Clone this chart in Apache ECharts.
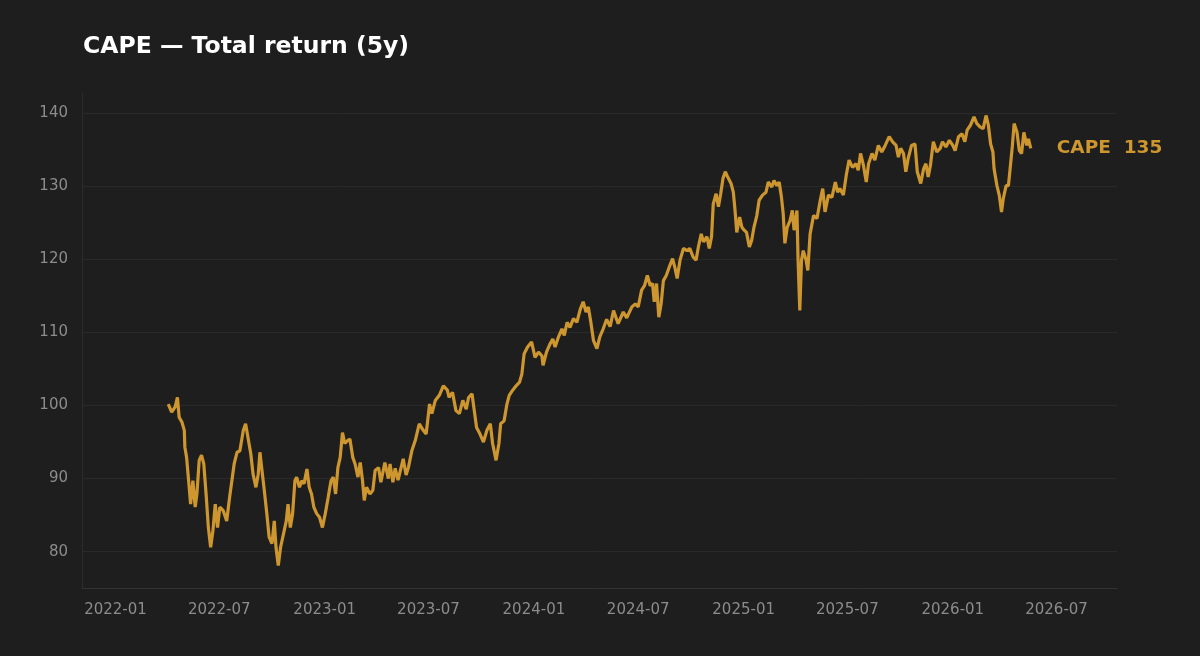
<!DOCTYPE html>
<html>
<head>
<meta charset="utf-8">
<title>CAPE — Total return (5y)</title>
<script src="https://cdn.jsdelivr.net/npm/echarts@6/dist/echarts.min.js"></script>
<style>
  html, body { margin: 0; padding: 0; background: #1e1e1e; }
  #chart { width: 1200px; height: 656px; }
</style>
</head>
<body>
<div id="chart"></div>
<script>
// days since 2022-01-01
var dayOffsets = [
  92, 98, 104, 108, 111, 116, 120, 121, 124, 129, 131, 135, 139, 142, 146, 150, 154, 158, 162, 166,
  170, 174, 178, 182, 188, 194, 199, 203, 207, 212, 217, 223, 227, 232, 236, 240, 245, 249, 252, 255,
  259, 264, 268, 273, 277, 280, 284, 288, 293, 298, 301, 305, 309, 313, 316, 321, 325, 329, 334, 338,
  342, 346, 351, 356, 361, 366, 371, 376, 380, 384, 388, 392, 396, 400, 405, 409, 414, 418, 423, 427,
  431, 434, 438, 444, 449, 453, 459, 463, 470, 476, 479, 484, 488, 493, 502, 507, 511, 517, 523, 530,
  537, 542, 548, 552, 558, 565, 572, 579, 582, 588, 594, 600, 606, 612, 616, 622, 626, 630, 636, 642,
  648, 654, 658, 664, 669, 672, 678, 683, 687, 693, 699, 705, 709, 713, 719, 726, 732, 738, 744, 746,
  752, 758, 763, 767, 773, 779, 783, 788, 793, 799, 805, 811, 816, 821, 825, 829, 834, 840, 845, 851,
  857, 863, 869, 877, 886, 892, 901, 907, 912, 918, 923, 928, 933, 937, 940, 944, 948, 952, 956, 961,
  966, 972, 976, 980, 985, 991, 997, 1002, 1008, 1013, 1017, 1022, 1026, 1032, 1036, 1040, 1043, 1048, 1052, 1056,
  1060, 1064, 1068, 1074, 1078, 1081, 1084, 1089, 1093, 1097, 1101, 1106, 1110, 1114, 1119, 1123, 1129, 1135, 1139, 1145,
  1149, 1154, 1158, 1162, 1165, 1168, 1172, 1177, 1181, 1184, 1189, 1191, 1194, 1197, 1200, 1205, 1208, 1212, 1218, 1224,
  1229, 1234, 1238, 1244, 1250, 1256, 1260, 1264, 1270, 1275, 1280, 1286, 1292, 1296, 1300, 1305, 1310, 1314, 1320, 1325,
  1331, 1337, 1343, 1350, 1356, 1362, 1366, 1370, 1375, 1379, 1383, 1389, 1395, 1399, 1405, 1410, 1414, 1418, 1422, 1427,
  1433, 1439, 1443, 1449, 1455, 1461, 1465, 1471, 1477, 1482, 1486, 1492, 1498, 1503, 1509, 1514, 1519, 1523, 1527, 1531,
  1533, 1538, 1542, 1546, 1549, 1554, 1558, 1561, 1565, 1568, 1573, 1577, 1581, 1585, 1590, 1593, 1597
];

var capeValues = [
  100.2, 99.1, 99.8, 101.1, 98.4, 97.7, 96.6, 94.3, 92.9, 88.4, 86.5, 89.7, 86.1, 87.9, 92.5, 93.2, 92.0, 87.9, 83.3, 80.6,
  82.9, 86.5, 83.3, 86.1, 85.6, 84.2, 87.4, 89.7, 92.0, 93.6, 93.8, 96.6, 97.5, 95.2, 93.4, 90.6, 88.8, 90.6, 93.6, 91.5,
  88.8, 85.2, 82.0, 81.1, 84.2, 80.6, 78.1, 80.6, 82.4, 84.2, 86.5, 83.3, 85.2, 89.7, 90.2, 88.8, 89.7, 89.3, 91.3, 88.8,
  87.9, 86.1, 85.2, 84.7, 83.3, 85.2, 87.4, 89.7, 90.2, 87.9, 91.5, 92.9, 96.3, 94.8, 95.2, 95.4, 92.9, 92.0, 90.2, 92.2,
  89.7, 87.0, 88.8, 87.9, 88.4, 91.1, 91.5, 89.5, 92.2, 90.0, 92.0, 89.5, 91.4, 89.8, 92.7, 90.5, 91.5, 93.8, 95.2, 97.5,
  96.6, 96.1, 100.2, 98.9, 100.7, 101.4, 102.7, 102.1, 101.1, 101.8, 99.3, 98.9, 100.7, 99.5, 101.1, 101.6, 99.3, 97.0, 96.1, 95.0,
  96.6, 97.5, 94.8, 92.5, 94.8, 97.5, 97.9, 100.2, 101.4, 102.1, 102.7, 103.2, 104.3, 107.1, 108.0, 108.7, 106.6, 107.3, 106.8, 105.5,
  107.3, 108.4, 109.1, 108.0, 109.4, 110.5, 109.6, 111.4, 110.7, 111.9, 111.4, 113.2, 114.2, 112.8, 113.5, 111.6, 108.9, 107.8, 109.4, 110.5,
  111.8, 110.8, 113.0, 111.2, 112.8, 112.0, 113.5, 113.9, 113.5, 115.8, 116.4, 117.8, 116.4, 116.7, 114.2, 116.7, 112.1, 113.9, 117.1, 117.8,
  118.9, 120.1, 118.9, 117.4, 119.9, 121.5, 121.2, 121.5, 120.3, 119.9, 121.7, 123.5, 122.4, 123.1, 121.5, 123.1, 127.6, 129.0, 127.2, 129.0,
  131.1, 132.0, 131.3, 130.4, 129.2, 126.7, 123.7, 125.8, 124.4, 124.0, 123.7, 121.7, 122.6, 124.4, 126.0, 128.1, 128.8, 129.2, 130.6, 129.9,
  130.8, 130.1, 130.6, 128.5, 126.3, 122.2, 124.4, 125.3, 126.7, 124.0, 126.7, 119.9, 113.0, 119.9, 121.2, 119.9, 118.5, 123.5, 126.0, 125.6,
  127.8, 129.7, 126.5, 128.8, 128.5, 130.6, 129.2, 129.7, 128.8, 131.5, 133.6, 132.6, 133.1, 132.2, 134.5, 132.9, 130.6, 133.1, 134.5, 133.6,
  135.6, 134.7, 135.6, 136.8, 136.1, 135.6, 134.0, 135.2, 134.5, 132.0, 133.8, 135.6, 135.8, 132.0, 130.4, 132.4, 133.1, 131.3, 132.9, 136.1,
  134.7, 135.2, 136.1, 135.4, 136.3, 135.6, 134.9, 136.8, 137.2, 136.1, 137.7, 138.4, 139.5, 138.6, 138.1, 137.9, 139.7, 138.4, 135.8, 134.7,
  132.4, 130.1, 128.8, 126.5, 128.3, 130.1, 130.1, 132.4, 135.6, 138.6, 137.4, 134.9, 134.5, 137.4, 135.6, 136.5, 135.2
];

var seriesName = 'CAPE';
var titleText = 'CAPE — Total return (5y)';
var gold = '#cd962f';

var seriesData = [];
for (var i = 0; i < dayOffsets.length; i++) {
    seriesData.push([new Date(2022, 0, 1 + dayOffsets[i]).getTime(), capeValues[i]]);
}
var lastValue = capeValues[capeValues.length - 1];

var chart = echarts.init(document.getElementById('chart'));
var option = {
    backgroundColor: '#1e1e1e',
    animation: false,
    title: {
        text: titleText,
        left: 78,
        top: 30,
        textStyle: { color: '#ffffff', fontSize: 23.5, fontWeight: 'bold', fontFamily: 'DejaVu Sans' }
    },
    grid: { left: 82, right: 83, top: 93, bottom: 68 },
    xAxis: {
        type: 'time',
        min: function (v) { return v.min - (v.max - v.min) * 0.1; },
        max: function (v) { return v.max + (v.max - v.min) * 0.1; },
        splitNumber: 10,
        axisLine: { show: true, lineStyle: { color: '#333333', width: 1 } },
        axisTick: { show: false },
        splitLine: { show: false },
        axisLabel: {
            formatter: '{yyyy}-{MM}',
            color: '#8c8c8c',
            fontSize: 15,
            fontFamily: 'DejaVu Sans',
            margin: 15,
            hideOverlap: true
        }
    },
    yAxis: {
        type: 'value',
        min: function (v) { return v.min - (v.max - v.min) * 0.05; },
        max: function (v) { return v.max + (v.max - v.min) * 0.05; },
        axisLine: { show: true, lineStyle: { color: '#2c2c2c', width: 1 } },
        axisTick: { show: false },
        splitLine: { show: true, showMinLine: false, showMaxLine: false, lineStyle: { color: '#2a2a2a', width: 1 } },
        axisLabel: {
            color: '#8c8c8c',
            fontSize: 15,
            fontFamily: 'DejaVu Sans',
            margin: 14,
            showMinLabel: false,
            showMaxLabel: false
        }
    },
    series: [{
        name: seriesName,
        type: 'line',
        data: seriesData,
        showSymbol: false,
        smooth: false,
        lineStyle: { color: gold, width: 3.2 },
        itemStyle: { color: gold },
        endLabel: {
            show: true,
            distance: 26,
            formatter: function () { return seriesName + '  ' + Math.round(lastValue); },
            color: gold,
            fontSize: 18.5,
            fontWeight: 'bold',
            fontFamily: 'DejaVu Sans'
        }
    }]
};
chart.setOption(option);
</script>
</body>
</html>
